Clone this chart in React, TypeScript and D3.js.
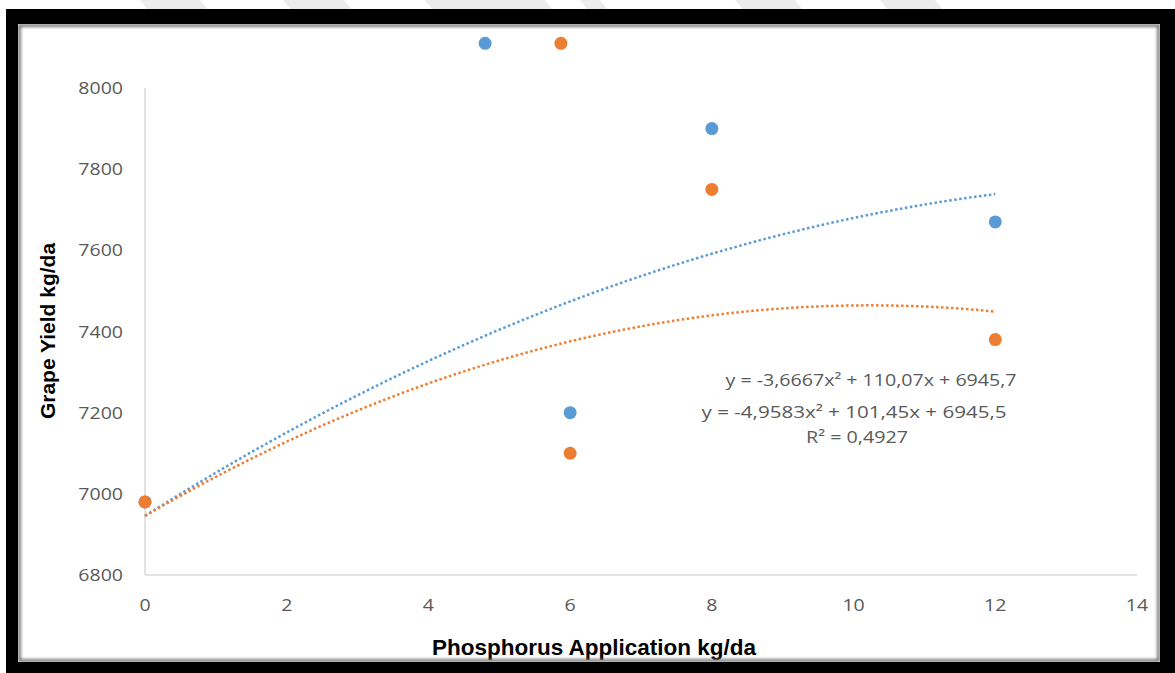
import React from "react";
import * as d3 from "d3";

// Phosphorus application (kg/da) and grape yield (kg/da) for the two series
const blueX = [0, 4.8, 6, 8, 12];
const blueY = [6980, 8110, 7200, 7900, 7670];
const orangeX = [0, 5.87, 6, 8, 12];
const orangeY = [6980, 8110, 7100, 7750, 7380];

// Polynomial trendline coefficients [a, b, c] for y = a·x² + b·x + c
const blueFit = [-3.6667, 110.07, 6945.7];
const orangeFit = [-4.9583, 101.45, 6945.5];
const fitRange = [0, 12];

const xTicks = [0, 2, 4, 6, 8, 10, 12, 14];
const yTicks = [6800, 7000, 7200, 7400, 7600, 7800, 8000];

const equationLines = [
  "y = -3,6667x² + 110,07x + 6945,7",
  "y = -4,9583x² + 101,45x + 6945,5",
  "R² = 0,4927",
];

const BLUE = "#5b9bd5";
const ORANGE = "#ed7d31";
const TICK = "#595959";
const AXIS = "#d9d9d9";

const W = 1175;
const H = 673;

export default function App() {
  const x = d3.scaleLinear().domain([0, 14]).range([145, 1137]);
  const y = d3.scaleLinear().domain([6800, 8000]).range([575, 88]);

  const curve = (c: number[]) => {
    const steps = 120;
    const pts: [number, number][] = [];
    for (let i = 0; i <= steps; i++) {
      const xv = fitRange[0] + ((fitRange[1] - fitRange[0]) * i) / steps;
      pts.push([xv, c[0] * xv * xv + c[1] * xv + c[2]]);
    }
    return d3
      .line<[number, number]>()
      .x((d) => x(d[0]))
      .y((d) => y(d[1]))
      .curve(d3.curveLinear)(pts) as string;
  };

  const tickFont = "'Open Sans', 'Liberation Sans', sans-serif";
  const titleFont = "'Liberation Sans', Arial, sans-serif";

  // black picture frame: outer minus inner rectangle
  const frame =
    `M6,9 H${W} V${H} H6 Z ` + `M18,24 V662 H1160 V24 Z`;

  // faint diagonal stripes along the top edge
  const stripes = [
    [140, 200],
    [283, 344],
    [425, 545],
    [580, 600],
    [735, 795],
    [880, 935],
  ];

  return (
    <svg
      width={W}
      height={H}
      style={{ position: "absolute", left: 0, top: 0, background: "#fff" }}
      xmlns="http://www.w3.org/2000/svg"
    >
      <defs>
        <filter id="soft" x="-5%" y="-5%" width="110%" height="110%">
          <feGaussianBlur stdDeviation="1.6" />
        </filter>
      </defs>
      <rect x={0} y={0} width={W} height={H} fill="#fff" />
      {stripes.map(([a, b], i) => (
        <path
          key={i}
          d={`M${a},0 H${b} L${b + 8},10 H${a + 8} Z`}
          fill="#ececec"
        />
      ))}

      {/* plot area */}
      <rect x={18} y={24} width={1142} height={638} fill="#fff" />

      {/* axis lines */}
      <line x1={x(0)} x2={x(0)} y1={y(8000)} y2={y(6800)} stroke={AXIS} strokeWidth={1.5} />
      <line x1={x(0)} x2={x(14)} y1={y(6800)} y2={y(6800)} stroke={AXIS} strokeWidth={1.5} />

      {/* tick labels */}
      {yTicks.map((t) => (
        <text
          key={t}
          transform={`translate(123,${y(t)}) scale(1.15,1)`}
          textAnchor="end"
          dy="0.36em"
          fontFamily={tickFont}
          fontSize={17}
          fill={TICK}
        >
          {t}
        </text>
      ))}
      {xTicks.map((t) => (
        <text
          key={t}
          transform={`translate(${x(t)},605) scale(1.15,1)`}
          textAnchor="middle"
          dy="0.36em"
          fontFamily={tickFont}
          fontSize={17}
          fill={TICK}
        >
          {t}
        </text>
      ))}

      {/* trendlines */}
      <path d={curve(blueFit)} fill="none" stroke={BLUE} strokeWidth={2.5} strokeDasharray="2.5,2.5" />
      <path d={curve(orangeFit)} fill="none" stroke={ORANGE} strokeWidth={2.5} strokeDasharray="2.5,2.5" />

      {/* markers */}
      {blueX.map((v, i) => (
        <circle key={"b" + i} cx={x(v)} cy={y(blueY[i])} r={6.5} fill={BLUE} />
      ))}
      {orangeX.map((v, i) => (
        <circle key={"o" + i} cx={x(v)} cy={y(orangeY[i])} r={6.5} fill={ORANGE} />
      ))}

      {/* trendline equations */}
      {[
        { cx: 871, cy: 380, w: 291 },
        { cx: 854, cy: 412, w: 305 },
        { cx: 857, cy: 437, w: 102 },
      ].map((p, i) => (
        <text
          key={i}
          x={p.cx - p.w / 2}
          y={p.cy}
          dy="0.36em"
          textLength={p.w}
          lengthAdjust="spacingAndGlyphs"
          fontFamily={tickFont}
          fontSize={17}
          fill={TICK}
        >
          {equationLines[i]}
        </text>
      ))}

      {/* axis titles */}
      <text
        transform="translate(47,331) rotate(-90)"
        textAnchor="middle"
        dy="0.36em"
        fontFamily={titleFont}
        fontWeight="bold"
        fontSize={21}
        fill="#000"
      >
        Grape Yield kg/da
      </text>
      <text
        x={594}
        y={647}
        textAnchor="middle"
        dy="0.36em"
        fontFamily={titleFont}
        fontWeight="bold"
        fontSize={22.5}
        fill="#000"
      >
        Phosphorus Application kg/da
      </text>

      {/* frame with a soft inner shadow */}
      <rect
        x={19.5}
        y={25.5}
        width={1139}
        height={635}
        fill="none"
        stroke="#777"
        strokeWidth={3}
        filter="url(#soft)"
      />
      <path d={frame} fill="#000" fillRule="evenodd" />
    </svg>
  );
}
